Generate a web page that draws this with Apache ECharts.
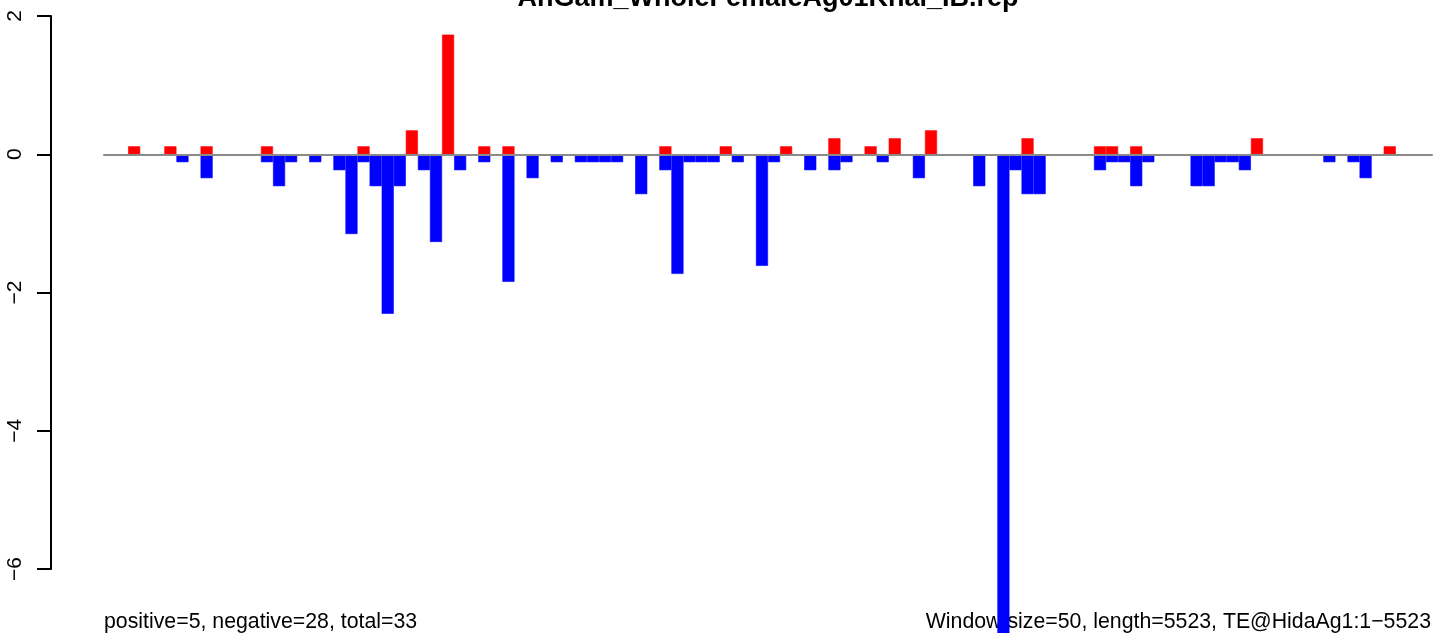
<!DOCTYPE html>
<html>
<head>
<meta charset="utf-8">
<script src="https://cdn.jsdelivr.net/npm/echarts@6/dist/echarts.min.js"></script>
<style>html,body{margin:0;padding:0;background:#fff}#c{width:1444px;height:633px}</style>
</head>
<body>
<div id="c"></div>
<script>
var titleText = "AnGam_WholeFemaleAg01Khal_IB.rep";
var leftNote = "positive=5, negative=28, total=33";
var rightNote = "Window size=50, length=5523, TE@HidaAg1:1\u22125523";
var yTicks = [-6, -4, -2, 0, 2];

// window index (50 bp windows)
var windows = [];
for (var i = 0; i < 110; i++) windows.push(String(i + 1));

var positive = [
  0,0,0.115,0,0,0.115,0,0,0.115,0,
  0,0,0,0.115,0,0,0,0,0,0,
  0,0.115,0,0,0,0.346,0,0,1.731,0,
  0,0.115,0,0.115,0,0,0,0,0,0,
  0,0,0,0,0,0,0.115,0,0,0,
  0,0.115,0,0,0,0,0.115,0,0,0,
  0.231,0,0,0.115,0,0.231,0,0,0.346,0,
  0,0,0,0,0,0,0.231,0,0,0,
  0,0,0.115,0.115,0,0.115,0,0,0,0,
  0,0,0,0,0,0.231,0,0,0,0,
  0,0,0,0,0,0,0.115,0,0,0
];
var negative = [
  0,0,0,0,0,0,-0.115,0,-0.346,0,
  0,0,0,-0.115,-0.462,-0.115,0,-0.115,0,-0.231,
  -1.154,-0.115,-0.462,-2.308,-0.462,0,-0.231,-1.269,0,-0.231,
  0,-0.115,0,-1.846,0,-0.346,0,-0.115,0,-0.115,
  -0.115,-0.115,-0.115,0,-0.577,0,-0.231,-1.731,-0.115,-0.115,
  -0.115,0,-0.115,0,-1.615,-0.115,0,0,-0.231,0,
  -0.231,-0.115,0,0,-0.115,0,0,-0.346,0,0,
  0,0,-0.462,0,-7.0,-0.231,-0.577,-0.577,0,0,
  0,0,-0.231,-0.115,-0.115,-0.462,-0.115,0,0,0,
  -0.462,-0.462,-0.115,-0.115,-0.231,0,0,0,0,0,
  0,-0.115,0,-0.115,-0.346,0,0,0,0,0
];

// empty windows draw no bar
function toBars(arr) { return arr.map(function (v) { return v === 0 ? '-' : v; }); }

var FONT = '"Liberation Sans", Arial, Helvetica, sans-serif';
var chart = echarts.init(document.getElementById('c'), null, {renderer: 'canvas'});
chart.setOption({
  animation: false,
  backgroundColor: '#ffffff',
  grid: {left: 104, right: 12, top: 16, bottom: 64, containLabel: false},
  xAxis: {
    type: 'category',
    data: windows,
    boundaryGap: true,
    axisLine: {show: true, onZero: true, lineStyle: {color: '#8a8a8a', width: 2}},
    axisTick: {show: false},
    axisLabel: {show: false},
    splitLine: {show: false},
    z: 5
  },
  yAxis: {
    type: 'value',
    min: yTicks[0],
    max: yTicks[yTicks.length - 1],
    interval: 2,
    offset: 53,
    axisLine: {show: true, onZero: false, lineStyle: {color: '#000', width: 2}},
    axisTick: {show: true, inside: false, length: 14, lineStyle: {color: '#000', width: 2}},
    axisLabel: {
      show: true, rotate: 90, margin: 25, color: '#000', fontSize: 21, fontFamily: FONT,
      formatter: function (v) { return String(v).replace('-', '\u2212'); }
    },
    splitLine: {show: false}
  },
  series: [
    {
      name: 'positive', type: 'bar', data: toBars(positive),
      barCategoryGap: '0%', barGap: '-100%',
      itemStyle: {color: '#ff0000', borderColor: '#ff0000', borderWidth: 0.6}, clip: false
    },
    {
      name: 'negative', type: 'bar', data: toBars(negative),
      barCategoryGap: '0%', barGap: '-100%',
      itemStyle: {color: '#0000ff', borderColor: '#0000ff', borderWidth: 0.6}, clip: false
    }
  ],
  graphic: [
    {type: 'text', x: 768, y: -1, style: {text: titleText, font: 'bold 27px ' + FONT, fill: '#000', textAlign: 'center', textVerticalAlign: 'middle'}},
    {type: 'text', x: 104, y: 633, style: {text: leftNote, font: '21.3px ' + FONT, fill: '#000', textAlign: 'left', textVerticalAlign: 'bottom'}},
    {type: 'text', x: 1431, y: 633, style: {text: rightNote, font: '21.3px ' + FONT, fill: '#000', textAlign: 'right', textVerticalAlign: 'bottom'}}
  ]
});
</script>
</body>
</html>
